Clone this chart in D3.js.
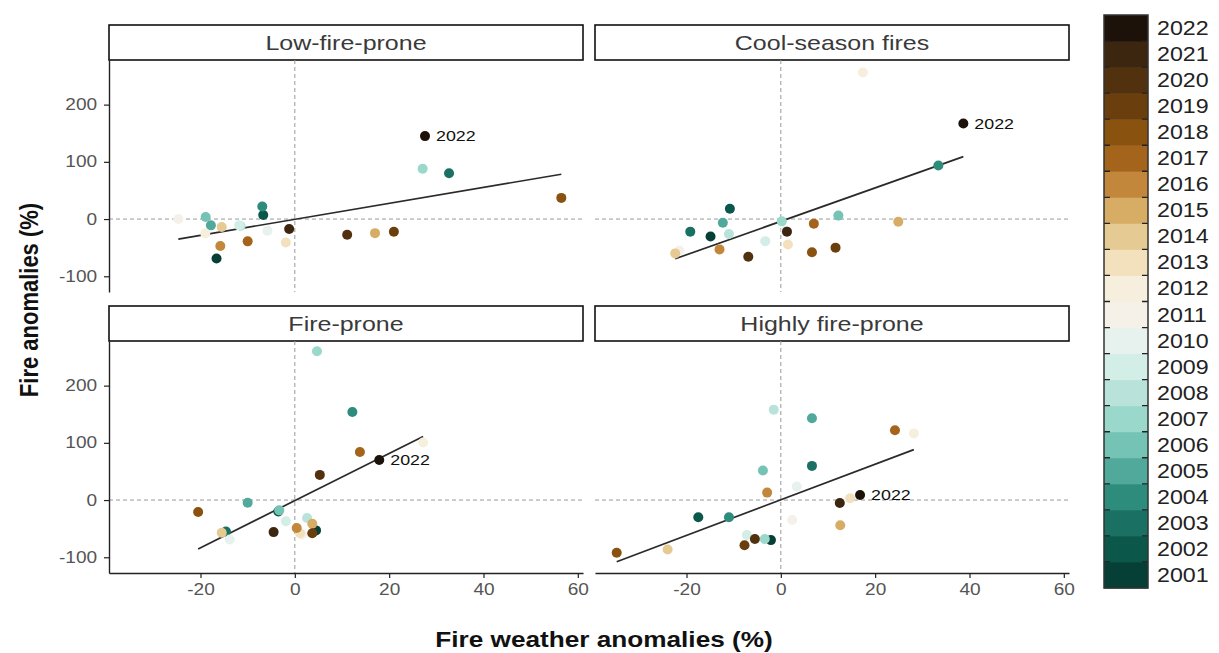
<!DOCTYPE html>
<html>
<head>
<meta charset="utf-8">
<script src="https://cdn.jsdelivr.net/npm/d3@7"></script>
<style>
  body { margin: 0; background: #fff; }
  svg { display: block; font-family: "Liberation Sans", Arial, sans-serif; }
</style>
</head>
<body>
<div id="chart"></div>
<script>
// years and their colours (2001 -> 2022)
var years = d3.range(2001, 2023);
var yearColors = ["#063f35", "#0b574a", "#1a7062", "#2e8c7d", "#50a99a", "#75c3b4",
  "#9ad8cb", "#b9e3da", "#d3ede7", "#e7f2ef", "#f5f1e9", "#f6efdd", "#f2e1bc",
  "#e6ca93", "#d7ad66", "#c2873b", "#a5641c", "#8a520f", "#6b3f0d", "#52310e",
  "#3d2610", "#1c1209"];

var panelNames = ["Low-fire-prone", "Cool-season fires", "Fire-prone", "Highly fire-prone"];

// fire weather anomalies (%) / fire anomalies (%), one value per year 2001..2022
var lowX = [-16.6, -6.7, 32.7, -6.9, -17.8, -18.9, 27.1, -11.5, -11.8, -5.8, -24.7,
  -19, -1.9, -15.5, 17, -15.8, -10, 56.5, 21, 11.1, -1.2, 27.6];
var lowY = [-69, 7, 80, 22, -11, 3.5, 88, -12, -11, -20.5, 0,
  -25, -41, -14, -24.6, -47, -39, 37, -22.3, -27.5, -17.5, 145];

var coolX = [-14.9, -10.8, -19.2, 33.4, -12.3, 12.2, 0.2, -11, -3.3, 1.0, -21.5,
  17.4, 1.5, -22.4, 24.9, -13, 7, 6.6, 11.6, -6.9, 1.3, 38.7];
var coolY = [-30.5, 18, -22, 93.5, -6.5, 6, -4, -26, -38.6, -20, -55,
  256, -44.5, -60, -4.7, -53, -8, -58, -50, -66, -22, 167];

var proneX = [4.5, -3.5, -14.6, 12.2, -10, -3.3, 4.7, 2.6, -1.9, -13.8, 1.5,
  27.2, 1.1, -15.5, 3.7, 0.4, 13.8, -20.5, 3.7, 5.3, -4.5, 17.9];
var proneY = [-53, -20, -55, 154, -4.6, -18, 260, -31.5, -37, -69, -60,
  100.7, -58, -57, -41.5, -49, 84, -21, -58, 44, -56, 70];

var highX = [-2.1, -17.5, 6.6, -11, 6.6, -3.8, -3.4, -1.5, -7.2, 3.4, 2.4,
  28.2, 14.7, -24, 12.6, -2.9, 24.2, -34.8, -7.7, -5.5, 12.5, 16.8];
var highY = [-70, -30, 59.7, -30, 143, 51.6, -68, 158, -61, 23.5, -35,
  116.5, 3, -86.5, -44, 13, 122, -92, -79, -68, -5, 8.8];

var panelX = [lowX, coolX, proneX, highX];
var panelY = [lowY, coolY, proneY, highY];

var xTicks = [-20, 0, 20, 40, 60];
var yTicks = [-100, 0, 100, 200];
var xDomain = [-39.4, 61.1];
var yDomain = [-127.5, 278];
var labelYear = 2022;

var W = 1219, H = 653;
var panelW = 474, panelH = 232;
var colX = [109, 595], rowY = [60, 341];
var stripH = 35;
var stretch = 1.19;

var svg = d3.select('#chart').append('svg')
  .attr('width', W)
  .attr('height', H);

var color = d3.scaleOrdinal(years, yearColors);
var x = d3.scaleLinear().domain(xDomain).range([0, panelW]);
var y = d3.scaleLinear().domain(yDomain).range([panelH, 0]);

function stretchText(parent, px, py, txt, size, anchor) {
  return parent.append('text')
    .attr('transform', 'translate(' + px + ',' + py + ') scale(' + stretch + ',1)')
    .attr('text-anchor', anchor || 'start')
    .style('font-size', size + 'px')
    .text(txt);
}

function fitLine(xs, ys) {
  var mx = d3.mean(xs), my = d3.mean(ys);
  var sxy = d3.sum(xs, function (v, i) { return (v - mx) * (ys[i] - my); });
  var sxx = d3.sum(xs, function (v) { return (v - mx) * (v - mx); });
  var b = sxy / sxx, a = my - b * mx;
  return d3.extent(xs).map(function (v) { return { x: v, y: a + b * v }; });
}

// plain hyphen for negatives, like the original
function tickLabel(v) { return String(v); }

function styleAxis(g) {
  g.attr('font-family', null).attr('font-size', null);
  g.select('.domain').attr('stroke', '#222').attr('stroke-width', 1.4);
  g.selectAll('.tick line').attr('stroke', '#222').attr('stroke-width', 1.2);
  g.selectAll('.tick text')
    .attr('fill', '#555')
    .style('font-size', '16px')
    .attr('transform', 'scale(' + stretch + ',1)');
}

panelNames.forEach(function (name, i) {
  var col = i % 2, row = Math.floor(i / 2);
  var xs = panelX[i], ys = panelY[i];
  var pts = years.map(function (yr, k) { return { year: yr, x: xs[k], y: ys[k] }; });

  var g = svg.append('g')
    .attr('transform', 'translate(' + colX[col] + ',' + rowY[row] + ')');

  // strip
  g.append('rect')
    .attr('x', 0).attr('y', -stripH)
    .attr('width', panelW).attr('height', stripH)
    .attr('fill', '#fff').attr('stroke', '#111').attr('stroke-width', 1.6);
  stretchText(g, panelW / 2, -10, name, 21, 'middle').attr('fill', '#3a3a3a');

  // zero reference lines
  g.append('line')
    .attr('x1', x(0)).attr('x2', x(0)).attr('y1', 0).attr('y2', panelH)
    .attr('stroke', '#9a9a9a').attr('stroke-dasharray', '4,3');
  g.append('line')
    .attr('x1', 0).attr('x2', panelW).attr('y1', y(0)).attr('y2', y(0))
    .attr('stroke', '#9a9a9a').attr('stroke-dasharray', '4,3');

  // linear fit
  g.append('path')
    .datum(fitLine(xs, ys))
    .attr('d', d3.line().x(function (d) { return x(d.x); }).y(function (d) { return y(d.y); }))
    .attr('fill', 'none').attr('stroke', '#2a2a2a').attr('stroke-width', 1.7);

  g.selectAll('circle.pt')
    .data(pts)
    .join('circle')
    .attr('class', 'pt')
    .attr('cx', function (d) { return x(d.x); })
    .attr('cy', function (d) { return y(d.y); })
    .attr('r', 5)
    .attr('fill', function (d) { return color(d.year); });

  var last = pts.filter(function (d) { return d.year === labelYear; })[0];
  stretchText(g, x(last.x) + 11, y(last.y) + 5, String(labelYear), 15)
    .attr('fill', '#111');

  if (col === 0) {
    g.append('g')
      .call(d3.axisLeft(y).tickValues(yTicks).tickFormat(tickLabel)
        .tickSize(5).tickPadding(5).tickSizeOuter(0))
      .call(styleAxis);
  }
  if (row === 1) {
    g.append('g')
      .attr('transform', 'translate(0,' + panelH + ')')
      .call(d3.axisBottom(x).tickValues(xTicks).tickFormat(tickLabel)
        .tickSize(5).tickPadding(6).tickSizeOuter(0))
      .call(styleAxis);
  }
});

// axis titles
svg.append('text')
  .attr('transform', 'translate(38,300) rotate(-90) scale(1,' + stretch + ')')
  .attr('text-anchor', 'middle')
  .style('font-size', '22px').style('font-weight', 'bold')
  .attr('fill', '#111')
  .text('Fire anomalies (%)');
stretchText(svg, 604, 647, 'Fire weather anomalies (%)', 22, 'middle')
  .style('font-weight', 'bold').attr('fill', '#111');

// legend colour bar
var legend = svg.append('g');
var yL = d3.scaleBand().domain(years.slice().reverse()).range([15, 588]);
var barX = 1104, barW = 44;

legend.selectAll('rect.bin')
  .data(years)
  .join('rect')
  .attr('class', 'bin')
  .attr('x', barX).attr('y', function (d) { return yL(d); })
  .attr('width', barW).attr('height', yL.bandwidth() + 0.5)
  .attr('fill', function (d) { return color(d); });

legend.selectAll('path.tick')
  .data(years.slice(0, years.length - 1))
  .join('path')
  .attr('class', 'tick')
  .attr('d', function (d) {
    var ty = yL(d);
    return 'M' + barX + ',' + ty + 'h6M' + (barX + barW - 6) + ',' + ty + 'h6';
  })
  .attr('stroke', '#222').attr('stroke-width', 1.3);

legend.append('rect')
  .attr('x', barX).attr('y', 15)
  .attr('width', barW).attr('height', 573)
  .attr('fill', 'none').attr('stroke', '#333').attr('stroke-width', 1.5);

years.forEach(function (yr) {
  stretchText(legend, 1157, yL(yr) + yL.bandwidth() / 2 + 7, String(yr), 19.5)
    .attr('fill', '#222');
});
</script>
</body>
</html>
